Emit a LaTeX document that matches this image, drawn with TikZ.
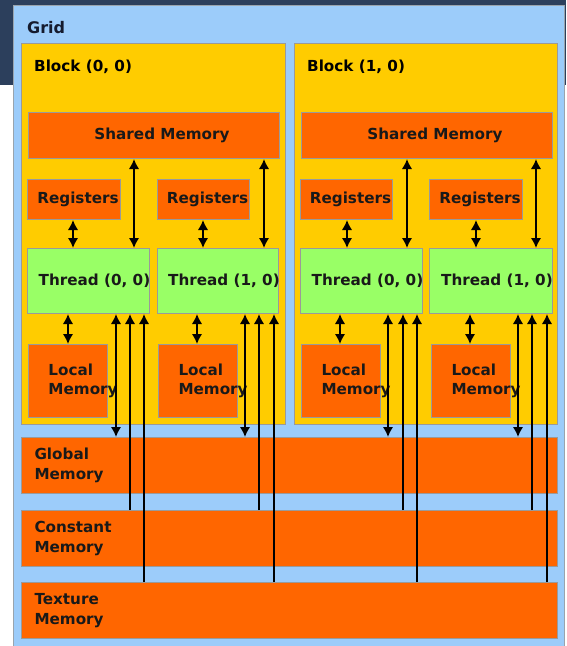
\documentclass[tikz,border=0pt]{standalone}
\usepackage{fontspec}
\setmainfont{DejaVu Sans}
\usepackage{xcolor}
\usepackage{tikz}
\usetikzlibrary{arrows.meta}

\definecolor{gridblue}{HTML}{9CCCFA}
\definecolor{blockyellow}{HTML}{FFCC00}
\definecolor{memorange}{HTML}{FF6600}
\definecolor{threadgreen}{HTML}{99FF66}
\definecolor{photoblue}{HTML}{2C3F5C}
\definecolor{edgegray}{HTML}{9A9A9A}
\definecolor{labelnavy}{HTML}{151B2E}

\tikzset{
  box/.style={draw=edgegray, line width=1pt, inner sep=0pt, anchor=north west,
    font=\bfseries\fontsize{15.2}{19.5}\selectfont, text=black!90},
  nudge/.style={execute at begin node={\hspace*{#1}},
    execute at end node={\hspace*{-#1}}},
  memory/.style={box, fill=memorange},
  thread/.style={box, fill=threadgreen, minimum height=65pt, nudge=6pt},
  regbox/.style={memory, minimum height=40pt, nudge=4pt},
  sharedbox/.style={memory, minimum width=251pt, minimum height=46pt, nudge=8pt},
  localbox/.style={memory, minimum width=79pt, minimum height=73pt,
    inner xsep=20pt, text width=39pt, align=left},
  widebox/.style={memory, minimum width=536pt, minimum height=56pt,
    inner xsep=13pt, text width=510pt, align=left},
  blockbox/.style={box, fill=blockyellow, minimum height=381pt},
  caption/.style={anchor=west, inner sep=0pt, font=\bfseries\fontsize{15.2}{19.5}\selectfont},
  link/.style={line width=1.9pt, >={Latex[length=10pt,width=10.5pt]}}
}

\begin{document}
\begin{tikzpicture}[x=1pt, y=-1pt]
\useasboundingbox (0,0) rectangle (566,646);
\fill[white] (0,0) rectangle (566,646);
\fill[photoblue] (0,0) rectangle (566,85);

\node[box, fill=gridblue, draw=edgegray!80!gridblue, minimum width=551pt, minimum height=660pt] (grid) at (13,5) {};
\node[caption, text=labelnavy, font=\bfseries\fontsize{16}{19}\selectfont] (gridlbl) at (27,28) {Grid};

\node[blockbox, minimum width=264pt] (b0) at (21,43) {};
\node[blockbox, minimum width=263pt] (b1) at (294,43) {};
\node[caption] (b0lbl) at (34,67) {Block (0, 0)};
\node[caption] (b1lbl) at (307,67) {Block (1, 0)};

\node[sharedbox] (sm0) at (28,112) {Shared Memory};
\node[sharedbox] (sm1) at (301,112) {Shared Memory};

\node[regbox, minimum width=93pt] (r00) at (27,179) {Registers};
\node[regbox, minimum width=92pt] (r01) at (157,179) {Registers};
\node[regbox, minimum width=92pt] (r10) at (300,179) {Registers};
\node[regbox, minimum width=93pt] (r11) at (429,179) {Registers};

\node[thread, minimum width=122pt] (t00) at (27,248) {Thread (0, 0)};
\node[thread, minimum width=121pt] (t01) at (157,248) {Thread (1, 0)};
\node[thread, minimum width=122pt] (t10) at (300,248) {Thread (0, 0)};
\node[thread, minimum width=123pt] (t11) at (429,248) {Thread (1, 0)};

\node[localbox] (l00) at (28,344) {Local\\Memory};
\node[localbox] (l01) at (158,344) {Local\\Memory};
\node[localbox] (l10) at (301,344) {Local\\Memory};
\node[localbox] (l11) at (431,344) {Local\\Memory};

\node[widebox] (gm) at (21,437) {Global\\Memory};
\node[widebox] (cm) at (21,510) {Constant\\Memory};
\node[widebox] (tm) at (21,582) {Texture\\Memory};

\draw[link, <->] (r00.south -| 73,0) -- (t00.north -| 73,0);
\draw[link, <->] (sm0.south -| 134,0) -- (t00.north -| 134,0);
\draw[link, <->] (t00.south -| 68,0) -- (l00.north -| 68,0);
\draw[link, <->] (t00.south -| 116,0) -- (gm.north -| 116,0);
\draw[link, ->] (cm.north -| 130,0) -- (t00.south -| 130,0);
\draw[link, ->] (tm.north -| 144,0) -- (t00.south -| 144,0);

\draw[link, <->] (r01.south -| 203,0) -- (t01.north -| 203,0);
\draw[link, <->] (sm0.south -| 264,0) -- (t01.north -| 264,0);
\draw[link, <->] (t01.south -| 197,0) -- (l01.north -| 197,0);
\draw[link, <->] (t01.south -| 245,0) -- (gm.north -| 245,0);
\draw[link, ->] (cm.north -| 259,0) -- (t01.south -| 259,0);
\draw[link, ->] (tm.north -| 274,0) -- (t01.south -| 274,0);

\draw[link, <->] (r10.south -| 347,0) -- (t10.north -| 347,0);
\draw[link, <->] (sm1.south -| 407,0) -- (t10.north -| 407,0);
\draw[link, <->] (t10.south -| 340,0) -- (l10.north -| 340,0);
\draw[link, <->] (t10.south -| 388,0) -- (gm.north -| 388,0);
\draw[link, ->] (cm.north -| 403,0) -- (t10.south -| 403,0);
\draw[link, ->] (tm.north -| 417,0) -- (t10.south -| 417,0);

\draw[link, <->] (r11.south -| 476,0) -- (t11.north -| 476,0);
\draw[link, <->] (sm1.south -| 536,0) -- (t11.north -| 536,0);
\draw[link, <->] (t11.south -| 470,0) -- (l11.north -| 470,0);
\draw[link, <->] (t11.south -| 518,0) -- (gm.north -| 518,0);
\draw[link, ->] (cm.north -| 532,0) -- (t11.south -| 532,0);
\draw[link, ->] (tm.north -| 547,0) -- (t11.south -| 547,0);
\end{tikzpicture}
\end{document}
